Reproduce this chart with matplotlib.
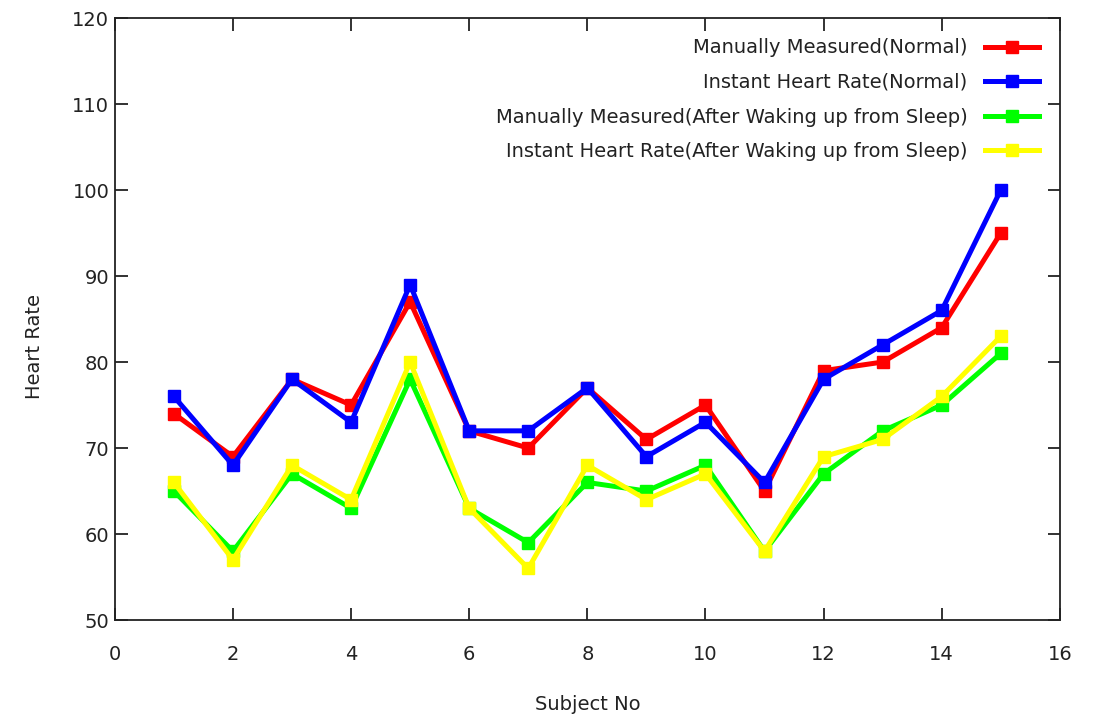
import matplotlib
matplotlib.use("Agg")
import matplotlib.pyplot as plt

subjects = list(range(1, 16))
manual_normal = [74, 69, 78, 75, 87, 72, 70, 77, 71, 75, 65, 79, 80, 84, 95]
instant_normal = [76, 68, 78, 73, 89, 72, 72, 77, 69, 73, 66, 78, 82, 86, 100]
manual_sleep = [65, 58, 67, 63, 78, 63, 59, 66, 65, 68, 58, 67, 72, 75, 81]
instant_sleep = [66, 57, 68, 64, 80, 63, 56, 68, 64, 67, 58, 69, 71, 76, 83]

labels = ["Manually Measured(Normal)", "Instant Heart Rate(Normal)",
          "Manually Measured(After Waking up from Sleep)",
          "Instant Heart Rate(After Waking up from Sleep)"]
colors = ["#ff0000", "#0000ff", "#00ff00", "#ffff00"]
series = [manual_normal, instant_normal, manual_sleep, instant_sleep]

xticks = list(range(0, 17, 2))
yticks = list(range(50, 121, 10))

plt.rcParams['font.family'] = ['DejaVu Sans']
fig = plt.figure(figsize=(11.04, 7.21), dpi=100)
ax = fig.add_axes([0.104, 0.14, 0.856, 0.835])

for vals, c, lab in zip(series, colors, labels):
    ax.plot(subjects, vals, color=c, lw=3.6, marker='s', ms=8.5, mec=c, mfc=c, label=lab)

ax.set_xlim(0, 16)
ax.set_ylim(50, 120)
ax.set_xticks(xticks)
ax.set_yticks(yticks)
ax.tick_params(direction='in', length=9, width=1.3, top=True, right=True,
               labelsize=14, colors='#222222')
ax.tick_params(axis='x', pad=18)
ax.tick_params(axis='y', pad=4)
for s in ax.spines.values():
    s.set_linewidth(1.3)
    s.set_color('#222222')
ax.set_xlabel("Subject No", fontsize=14, color='#222222')
ax.set_ylabel("Heart Rate", fontsize=14, color='#222222')
ax.xaxis.set_label_coords(0.5, -0.125)
ax.yaxis.set_label_coords(-0.075, 0.455)

leg = ax.legend(loc='upper right', frameon=False, markerfirst=False, fontsize=14,
                handlelength=2.8, labelspacing=0.8, borderaxespad=0.65,
                handletextpad=0.9)
for t in leg.get_texts():
    t.set_ha('right')
    t.set_color('#222222')
leg._legend_box.align = 'right'

fig.savefig("out.png", dpi=100)
